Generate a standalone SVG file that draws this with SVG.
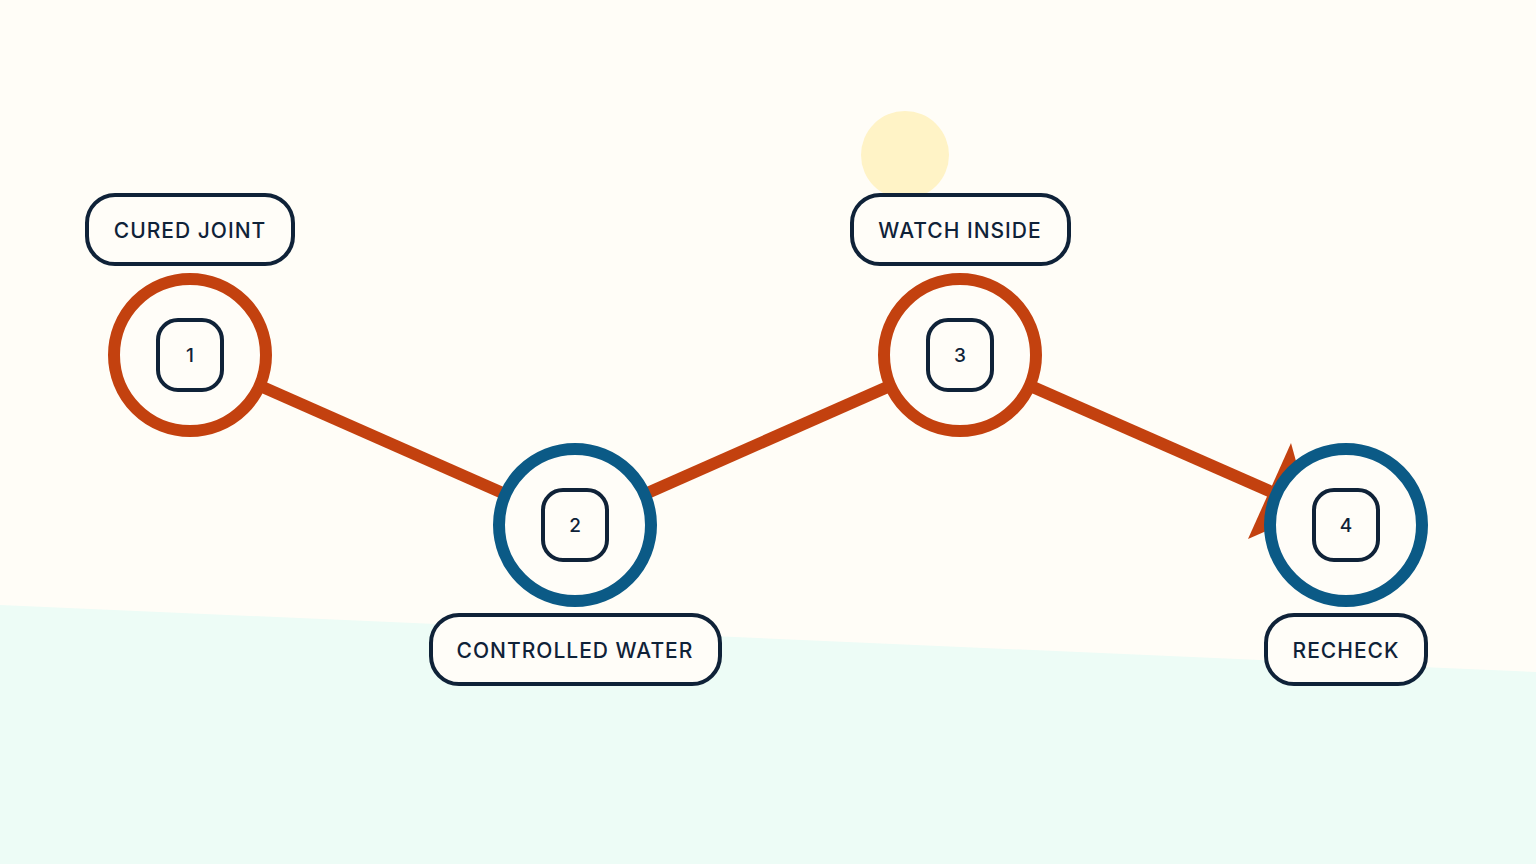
<svg xmlns="http://www.w3.org/2000/svg" width="1536" height="864" viewBox="0 0 1536 864">
<style>
.ring{fill:#fffdf8;stroke-width:12}
.o{stroke:#c3410f}.b{stroke:#0b5a86}
.box{fill:#fffdf8;stroke:#0f2238;stroke-width:4}
.t{font-family:Inter,"Liberation Sans",sans-serif;font-weight:500;fill:#0f2238;text-anchor:middle;dominant-baseline:central}
.lbl{font-size:21px;letter-spacing:1px}
.num{font-size:19px}
.c{stroke:#c3410f;stroke-width:12;fill:none}
</style>
<rect width="1536" height="864" fill="#fffdf7"/>
<polygon points="0,605 1536,672 1536,864 0,864" fill="#edfcf6"/>
<circle cx="905" cy="155" r="44" fill="#fff3c6"/>
<g id="connectors">
<line class="c" x1="190" y1="355" x2="575" y2="525"/>
<line class="c" x1="575" y1="525" x2="960" y2="355"/>
<line class="c" x1="960" y1="355" x2="1290" y2="500"/>
<polygon points="1291,443 1248,539 1310,512" fill="#c3410f"/>
</g>
<g id="n1"><circle class="ring o" cx="190" cy="355" r="76"/><rect class="box" x="158" y="320" width="64" height="70" rx="20"/><text class="t num" x="190" y="355">1</text>
<rect class="box" x="87" y="195" width="206" height="69" rx="28"/><text class="t lbl" x="190" y="230">CURED JOINT</text></g>
<g id="n2"><circle class="ring b" cx="575" cy="525" r="76"/><rect class="box" x="543" y="490" width="64" height="70" rx="20"/><text class="t num" x="575" y="525">2</text>
<rect class="box" x="431" y="615" width="289" height="69" rx="28"/><text class="t lbl" x="575" y="650">CONTROLLED WATER</text></g>
<g id="n3"><circle class="ring o" cx="960" cy="355" r="76"/><rect class="box" x="928" y="320" width="64" height="70" rx="20"/><text class="t num" x="960" y="355">3</text>
<rect class="box" x="852" y="195" width="217" height="69" rx="28"/><text class="t lbl" x="960" y="230">WATCH INSIDE</text></g>
<g id="n4"><circle class="ring b" cx="1346" cy="525" r="76"/><rect class="box" x="1314" y="490" width="64" height="70" rx="20"/><text class="t num" x="1346" y="525">4</text>
<rect class="box" x="1266" y="615" width="160" height="69" rx="28"/><text class="t lbl" x="1346" y="650">RECHECK</text></g>
</svg>
